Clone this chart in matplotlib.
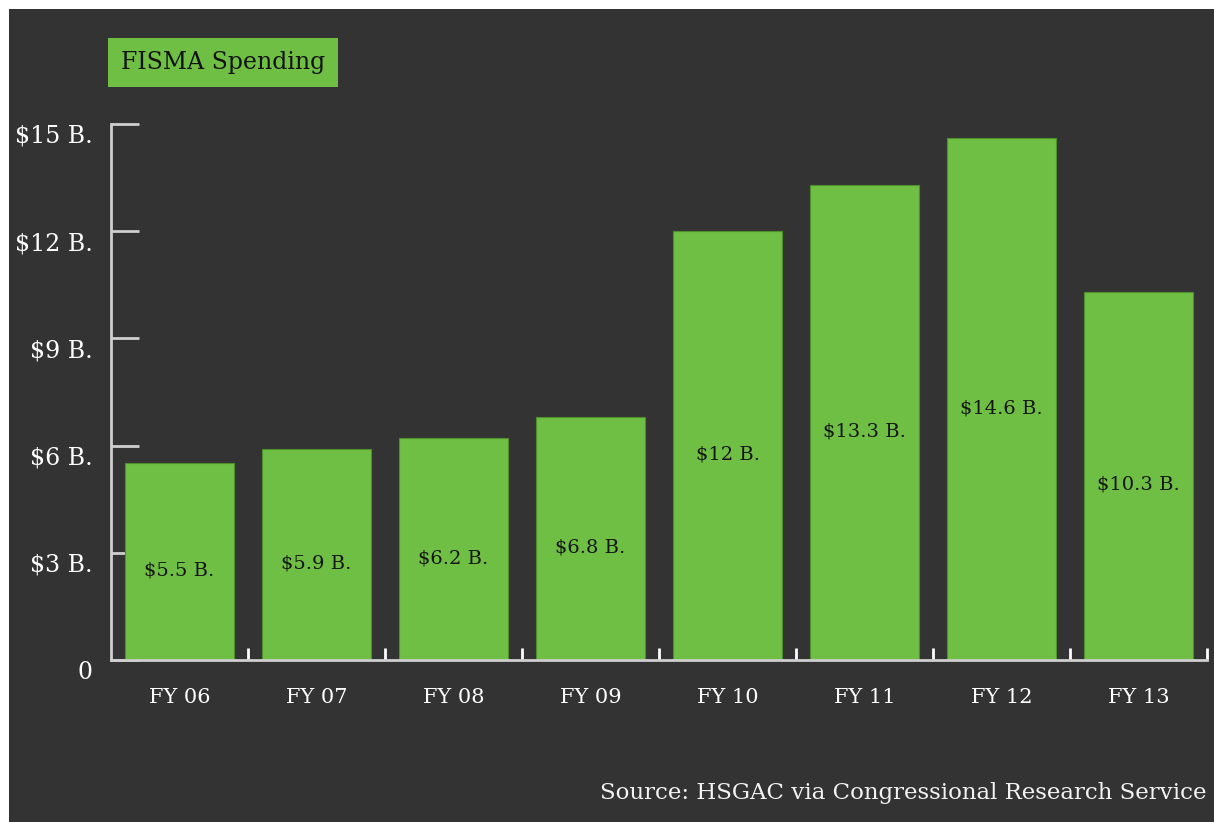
import matplotlib.pyplot as plt
import matplotlib.transforms as mtransforms
from matplotlib.patches import Rectangle

# ---------- data ----------
years = ["FY 06", "FY 07", "FY 08", "FY 09", "FY 10", "FY 11", "FY 12", "FY 13"]
spending = [5.5, 5.9, 6.2, 6.8, 12.0, 13.3, 14.6, 10.3]
value_labels = ["$5.5 B.", "$5.9 B.", "$6.2 B.", "$6.8 B.", "$12 B.", "$13.3 B.", "$14.6 B.", "$10.3 B."]
yticks = [0, 3, 6, 9, 12, 15]
ytick_labels = ["0", "$3 B.", "$6 B.", "$9 B.", "$12 B.", "$15 B."]

# ---------- style ----------
BG = "#333333"
GREEN = "#6fbf44"
EDGE = "#4f8f2e"
AXIS = "#cfcfcf"
FONT = "DejaVu Serif"

fig = plt.figure(figsize=(12.14, 8.22), dpi=100, facecolor="white")
# dark panel with thin white margin top/left
fig.patches.append(Rectangle((9 / 1214, 0), 1 - 9 / 1214, 1 - 9 / 822,
                             transform=fig.transFigure, facecolor=BG,
                             edgecolor="none", zorder=-10))

ax = fig.add_axes([111 / 1214, 1 - 660 / 822, (1207 - 111) / 1214, (660 - 124) / 822])
ax.set_facecolor(BG)
ax.patch.set_alpha(0)

x = list(range(len(years)))
ax.bar(x, spending, width=0.8, color=GREEN, edgecolor=EDGE, linewidth=0.8, zorder=2)

for xi, v, lab in zip(x, spending, value_labels):
    ax.text(xi, v / 2 - 0.25, lab, ha="center", va="center", fontsize=14,
            family=FONT, color="#151515", zorder=3)

ax.set_xlim(-0.5, len(years) - 0.5)
ax.set_ylim(0, 15)

for s in ["top", "right"]:
    ax.spines[s].set_visible(False)
for s in ["left", "bottom"]:
    ax.spines[s].set_color(AXIS)
    ax.spines[s].set_linewidth(2)

ax.set_yticks(yticks)
ax.set_yticklabels(ytick_labels, family=FONT, fontsize=17, color="white")
ax.tick_params(axis="y", direction="in", length=20, width=2, color=AXIS, pad=13)
offset = mtransforms.ScaledTranslation(0, -10 / 100, fig.dpi_scale_trans)
for lbl in ax.get_yticklabels():
    lbl.set_transform(lbl.get_transform() + offset)

ax.set_xticks(x)
ax.set_xticklabels(years, family=FONT, fontsize=15, color="white")
ax.tick_params(axis="x", which="major", length=0, pad=20)
ax.set_xticks([i + 0.5 for i in x], minor=True)
ax.tick_params(axis="x", which="minor", direction="in", length=9, width=2, color="white")

# title box
fig.text(121 / 1214, 1 - 62.5 / 822, "FISMA Spending", family=FONT, fontsize=17,
         color="#111111", ha="left", va="center",
         bbox=dict(boxstyle="square,pad=0.55", facecolor=GREEN, edgecolor="none"))

fig.text(1207 / 1214, 1 - 793 / 822, "Source: HSGAC via Congressional Research Service",
         family=FONT, fontsize=16.5, color="#f2f2f2", ha="right", va="center")

fig.savefig("out.png", dpi=100, facecolor=fig.get_facecolor())
